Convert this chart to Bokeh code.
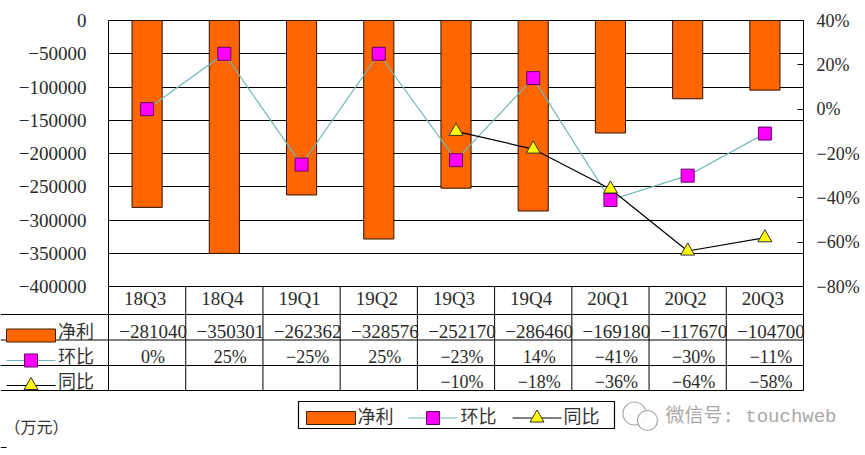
from bokeh.plotting import figure
from bokeh.layouts import column
from bokeh.models import Range1d, LinearAxis, FixedTicker, FactorRange, ColumnDataSource
from bokeh.core.properties import value
from bokeh.embed import file_html
from bokeh.resources import INLINE

quarters = ["18Q3", "18Q4", "19Q1", "19Q2", "19Q3", "19Q4", "20Q1", "20Q2", "20Q3"]
net_profit = [-281040, -350301, -262362, -328576, -252170, -286460, -169180, -117670, -104700]
qoq = [0, 25, -25, 25, -23, 14, -41, -30, -11]
yoy = [None, None, None, None, -10, -18, -36, -64, -58]
left_ticks = [0, -50000, -100000, -150000, -200000, -250000, -300000, -350000, -400000]
right_ticks = [40, 20, 0, -20, -40, -60, -80]
series_names = ["净利", "环比", "同比"]

SERIF = "Liberation Serif"
CJK = "Noto Sans CJK SC"
MINUS = "\u2212"
ORANGE = "#FF6600"
TEAL = "#6FB7B7"
MAGENTA = "#FF00FF"
YELLOW = "#FFFF00"
INK = "#2A2A2A"
W, FRAME_W, LEFT, TOP, FRAME_H = 862, 695, 108, 20, 266
OVERLAP = 12


def fmt(v, suffix=""):
    return f"{v}{suffix}".replace("-", MINUS)


p = figure(width=W, height=TOP + FRAME_H + OVERLAP, output_backend="svg", toolbar_location=None,
           x_range=FactorRange(factors=quarters), y_range=Range1d(-400000, 0),
           frame_width=FRAME_W, frame_height=FRAME_H,
           min_border_left=LEFT, min_border_right=W - LEFT - FRAME_W,
           min_border_top=TOP, min_border_bottom=OVERLAP,
           x_axis_location=None)
p.frame_align = False
p.outline_line_color = "black"
p.outline_line_width = 1
p.xgrid.visible = False
p.ygrid.grid_line_color = "black"
p.ygrid.grid_line_width = 1
p.ygrid.ticker = FixedTicker(ticks=left_ticks)

ax = p.yaxis[0]
ax.ticker = FixedTicker(ticks=left_ticks)
ax.major_label_overrides = {t: fmt(t) for t in left_ticks}
ax.major_label_text_font = SERIF
ax.major_label_text_font_size = "19px"
ax.major_label_text_color = INK
ax.major_label_standoff = 16
ax.major_tick_line_color = None
ax.minor_tick_line_color = None
ax.axis_line_color = None

p.extra_y_ranges = {"pct": Range1d(-80, 40)}
ax2 = LinearAxis(y_range_name="pct", ticker=FixedTicker(ticks=right_ticks))
ax2.major_label_overrides = {t: fmt(t, "%") for t in right_ticks}
ax2.major_label_text_font = SERIF
ax2.major_label_text_font_size = "18px"
ax2.major_label_text_color = INK
ax2.major_label_standoff = 13
ax2.major_tick_in = 6
ax2.major_tick_out = 0
ax2.major_tick_line_color = "black"
ax2.minor_tick_line_color = None
ax2.axis_line_color = "black"
p.add_layout(ax2, "right")

src = ColumnDataSource(dict(q=quarters, net=net_profit, qoq=qoq))
p.vbar(x="q", top=0, bottom="net", width=0.39, source=src,
       fill_color=ORANGE, line_color="#301000", line_width=1)
p.line(x="q", y="qoq", source=src, y_range_name="pct", line_color=TEAL, line_width=1.2)
p.scatter(x="q", y="qoq", source=src, y_range_name="pct", marker="square", size=13,
          fill_color=MAGENTA, line_color="#660066", line_width=1)

yoy_q = [q for q, v in zip(quarters, yoy) if v is not None]
yoy_v = [v for v in yoy if v is not None]
src2 = ColumnDataSource(dict(q=yoy_q, yoy=yoy_v))
p.line(x="q", y="yoy", source=src2, y_range_name="pct", line_color="black", line_width=1.2)
p.scatter(x="q", y="yoy", source=src2, y_range_name="pct", marker="triangle", size=14,
          fill_color=YELLOW, line_color="#333333", line_width=1)

# Data table and legend under the plot: both axes of this panel count page pixels
H = 165
t = figure(width=W, height=H, output_backend="svg", toolbar_location=None,
           x_range=Range1d(0, W), y_range=Range1d(TOP + FRAME_H + H, TOP + FRAME_H),
           min_border=0, x_axis_location=None, y_axis_location=None,
           outline_line_color=None, margin=(-OVERLAP, 0, 0, 0))
t.frame_align = False
t.border_fill_color = None
t.background_fill_color = None
t.grid.visible = False
n = len(quarters)
cw = FRAME_W / n
col_edges = [LEFT + i * cw for i in range(n + 1)]
row_edges = [286, 314, 339.5, 365, 390]
t.multi_line(xs=[[x, x] for x in col_edges], ys=[[286, 390] for _ in col_edges],
             line_color="black", line_width=1)
t.multi_line(xs=[[0, col_edges[-1]] for _ in row_edges[1:]], ys=[[y, y] for y in row_edges[1:]],
             line_color="black", line_width=1)
t.line(x=[0, 6], y=[447, 447], line_color="black", line_width=1)


def txt(x, y, s, font=SERIF, size="19px", align="center", color=INK):
    t.text(x=x, y=y, text=s, text_font=value(font), text_font_size=value(size),
           text_align=align, text_baseline="middle", text_color=color)


centers = [LEFT + (i + 0.5) * cw for i in range(n)]
txt([c - 2 for c in centers], [298] * n, quarters)
txt([c + 6 for c in centers], [331] * n, [fmt(v) for v in net_profit])
txt([c + 6 for c in centers], [356.5] * n, [fmt(v, "%") for v in qoq], size="18px")
txt([c + 6 for c in centers[4:]], [381.5] * 5, [fmt(v, "%") for v in yoy_v], size="18px")

txt([75.5] * 3, [329, 354, 379], series_names, font=CJK, size="18px", color="#333333")


def key(x0, x1, y, i):
    xm = (x0 + x1) / 2
    if i == 0:
        t.quad(left=x0, right=x1, top=y - 6.5, bottom=y + 6.5, fill_color=ORANGE, line_color="#402000")
    elif i == 1:
        t.line(x=[x0, x1], y=[y, y], line_color=TEAL, line_width=1)
        t.scatter(x=[xm], y=[y], marker="square", size=13, fill_color=MAGENTA, line_color="#660066")
    else:
        t.line(x=[x0, x1], y=[y, y], line_color="black", line_width=1)
        t.scatter(x=[xm], y=[y], marker="triangle", size=14, fill_color=YELLOW, line_color="#333333")


key(6, 55, 335, 0)
key(6, 55, 360, 1)
key(6, 55, 385, 2)

# legend box
t.quad(left=298, right=614, top=401, bottom=428, fill_color="white", line_color="black", line_width=1.2)
key(306, 355, 417.5, 0)
key(408, 457, 417.5, 1)
key(512, 561, 417.5, 2)
txt([375, 478, 581], [414] * 3, series_names, font=CJK, size="18px", color="#333333")

txt([36], [425], ["（万元）"], font=CJK, size="16px", color="#333333")

# watermark
GREY = "#A8A8A8"
t.scatter(x=[634, 647], y=[413, 420], marker="circle", size=[23, 20], fill_color="white",
          fill_alpha=0.9, line_color=GREY, line_width=1.2)
txt([665], [416], ["微信号: touchweb"], font="Liberation Mono, Noto Sans CJK SC", size="19px",
    align="left", color=GREY)

open("out.html", "w").write(file_html(column(p, t, spacing=0), INLINE))
